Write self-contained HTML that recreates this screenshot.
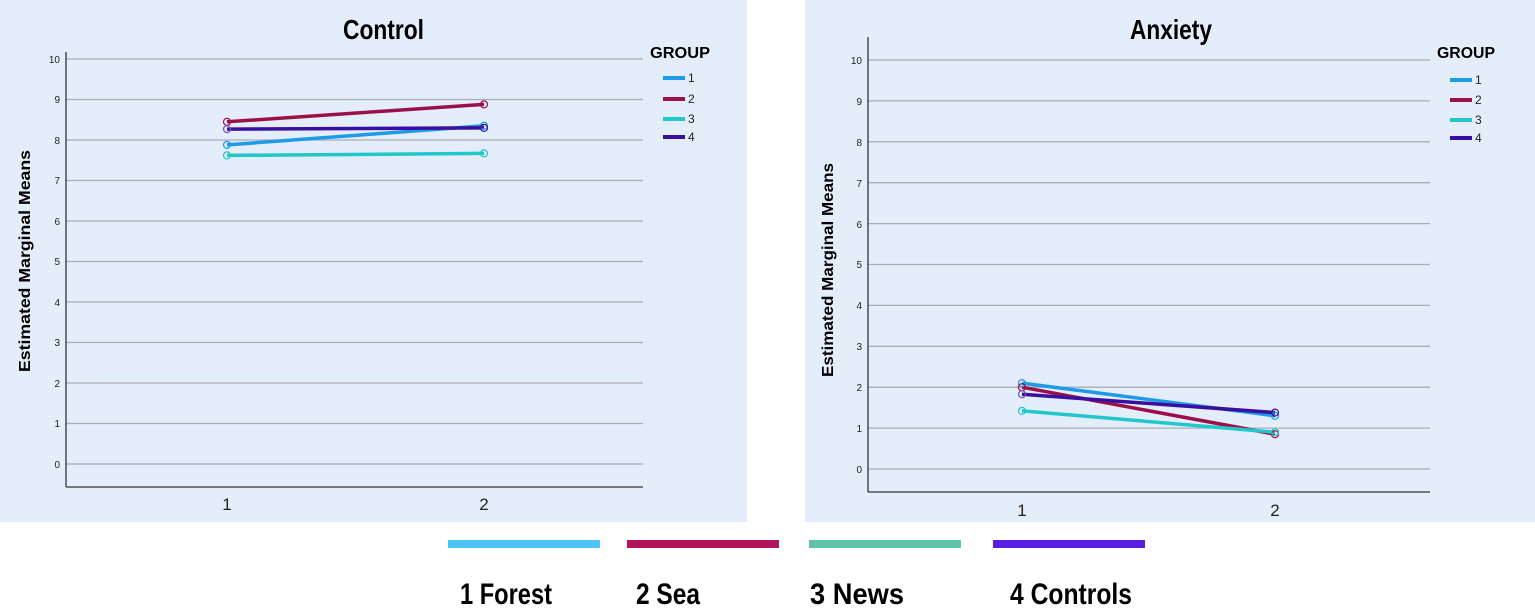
<!DOCTYPE html>
<html><head><meta charset="utf-8"><style>
html,body{margin:0;padding:0;background:#fff;width:1535px;height:611px;overflow:hidden}
svg{display:block}
.t{font-family:"Liberation Sans",sans-serif;font-weight:bold}
.tk{font-family:"Liberation Sans",sans-serif;font-size:10px;fill:#222}
.ax{font-family:"Liberation Sans",sans-serif;font-weight:bold;font-size:16px}
</style></head><body>
<svg width="1535" height="611" viewBox="0 0 1535 611" xmlns="http://www.w3.org/2000/svg">
<rect x="0" y="0" width="747" height="522" fill="#e4edfa"/>
<rect x="805" y="0" width="730" height="522" fill="#e4edfa"/>
<!-- left chart -->
<g stroke="#a9adb8" stroke-width="1.3">
<line x1="66" x2="643" y1="59" y2="59"/><line x1="66" x2="643" y1="99.5" y2="99.5"/><line x1="66" x2="643" y1="140" y2="140"/><line x1="66" x2="643" y1="180.5" y2="180.5"/><line x1="66" x2="643" y1="221" y2="221"/><line x1="66" x2="643" y1="261.5" y2="261.5"/><line x1="66" x2="643" y1="302" y2="302"/><line x1="66" x2="643" y1="342.5" y2="342.5"/><line x1="66" x2="643" y1="383" y2="383"/><line x1="66" x2="643" y1="423.5" y2="423.5"/><line x1="66" x2="643" y1="464" y2="464"/>
</g>
<line x1="66" y1="52" x2="66" y2="487" stroke="#333" stroke-width="1.3"/>
<line x1="66" y1="487" x2="643" y2="487" stroke="#333" stroke-width="1.3"/>
<g class="tk" text-anchor="end">
<text x="60" y="63">10</text><text x="60" y="103">9</text><text x="60" y="144">8</text><text x="60" y="184">7</text><text x="60" y="225">6</text><text x="60" y="265">5</text><text x="60" y="306">4</text><text x="60" y="346">3</text><text x="60" y="387">2</text><text x="60" y="427">1</text><text x="60" y="468">0</text>
</g>
<text class="tk" x="227" y="510" text-anchor="middle" style="font-size:17px">1</text>
<text class="tk" x="484" y="510" text-anchor="middle" style="font-size:17px">2</text>
<text class="ax" transform="translate(30,261) rotate(-90)" x="-111" textLength="222" lengthAdjust="spacingAndGlyphs">Estimated Marginal Means</text>
<text class="t" x="343" y="39" font-size="28" textLength="81" lengthAdjust="spacingAndGlyphs">Control</text>
<text class="t" x="650" y="58" font-size="16" textLength="60" lengthAdjust="spacingAndGlyphs">GROUP</text>
<g stroke-width="4">
<line x1="663" x2="685" y1="78" y2="78" stroke="#1e9be8"/><line x1="663" x2="685" y1="99" y2="99" stroke="#9b1048"/><line x1="663" x2="685" y1="119" y2="119" stroke="#22c7c9"/><line x1="663" x2="685" y1="137" y2="137" stroke="#3a0fa0"/>
</g>
<g class="tk" style="font-size:12px"><text x="688" y="82">1</text><text x="688" y="103">2</text><text x="688" y="123">3</text><text x="688" y="141">4</text></g>
<g stroke-width="3.5" fill="none">
<line x1="227" y1="144.9" x2="484" y2="125.8" stroke="#1e9be8"/>
<line x1="227" y1="121.8" x2="484" y2="104.4" stroke="#9b1048"/>
<line x1="227" y1="155.4" x2="484" y2="153.4" stroke="#22c7c9"/>
<line x1="227" y1="129.1" x2="484" y2="127.9" stroke="#3a0fa0"/>
</g>
<g fill="none" stroke-width="1.2">
<circle cx="227" cy="144.9" r="3.5" stroke="#1e9be8"/><circle cx="484" cy="125.8" r="3.5" stroke="#1e9be8"/>
<circle cx="227" cy="121.8" r="3.5" stroke="#9b1048"/><circle cx="484" cy="104.4" r="3.5" stroke="#9b1048"/>
<circle cx="227" cy="155.4" r="3.5" stroke="#22c7c9"/><circle cx="484" cy="153.4" r="3.5" stroke="#22c7c9"/>
<circle cx="227" cy="129.1" r="3.5" stroke="#7a4fc0"/><circle cx="484" cy="127.9" r="3.5" stroke="#3a0fa0"/>
</g>
<!-- right chart -->
<g stroke="#a9adb8" stroke-width="1.3">
<line x1="868" x2="1430" y1="60" y2="60"/><line x1="868" x2="1430" y1="100.9" y2="100.9"/><line x1="868" x2="1430" y1="141.8" y2="141.8"/><line x1="868" x2="1430" y1="182.7" y2="182.7"/><line x1="868" x2="1430" y1="223.6" y2="223.6"/><line x1="868" x2="1430" y1="264.5" y2="264.5"/><line x1="868" x2="1430" y1="305.4" y2="305.4"/><line x1="868" x2="1430" y1="346.3" y2="346.3"/><line x1="868" x2="1430" y1="387.2" y2="387.2"/><line x1="868" x2="1430" y1="428.1" y2="428.1"/><line x1="868" x2="1430" y1="469" y2="469"/>
</g>
<line x1="868" y1="37" x2="868" y2="492" stroke="#333" stroke-width="1.3"/>
<line x1="868" y1="492" x2="1430" y2="492" stroke="#333" stroke-width="1.3"/>
<g class="tk" text-anchor="end">
<text x="862" y="64">10</text><text x="862" y="105">9</text><text x="862" y="146">8</text><text x="862" y="187">7</text><text x="862" y="228">6</text><text x="862" y="268">5</text><text x="862" y="309">4</text><text x="862" y="350">3</text><text x="862" y="391">2</text><text x="862" y="432">1</text><text x="862" y="473">0</text>
</g>
<text class="tk" x="1022" y="516" text-anchor="middle" style="font-size:17px">1</text>
<text class="tk" x="1275" y="516" text-anchor="middle" style="font-size:17px">2</text>
<text class="ax" transform="translate(833,270) rotate(-90)" x="-107" textLength="214" lengthAdjust="spacingAndGlyphs">Estimated Marginal Means</text>
<text class="t" x="1130" y="39" font-size="28" textLength="82" lengthAdjust="spacingAndGlyphs">Anxiety</text>
<text class="t" x="1437" y="58" font-size="16" textLength="58" lengthAdjust="spacingAndGlyphs">GROUP</text>
<g stroke-width="4">
<line x1="1450" x2="1472" y1="80" y2="80" stroke="#1e9be8"/><line x1="1450" x2="1472" y1="100" y2="100" stroke="#9b1048"/><line x1="1450" x2="1472" y1="120" y2="120" stroke="#22c7c9"/><line x1="1450" x2="1472" y1="138" y2="138" stroke="#3a0fa0"/>
</g>
<g class="tk" style="font-size:12px"><text x="1475" y="84">1</text><text x="1475" y="104">2</text><text x="1475" y="124">3</text><text x="1475" y="142">4</text></g>
<g stroke-width="3.5" fill="none">
<line x1="1022" y1="383.1" x2="1275" y2="415.8" stroke="#1e9be8"/>
<line x1="1022" y1="387.2" x2="1275" y2="434.2" stroke="#9b1048"/>
<line x1="1022" y1="410.9" x2="1275" y2="432.2" stroke="#22c7c9"/>
<line x1="1022" y1="394.2" x2="1275" y2="412.6" stroke="#3a0fa0"/>
</g>
<g fill="none" stroke-width="1.2">
<circle cx="1022" cy="383.1" r="3.5" stroke="#1e9be8"/><circle cx="1275" cy="415.8" r="3.5" stroke="#1e9be8"/>
<circle cx="1022" cy="387.2" r="3.5" stroke="#9b1048"/><circle cx="1275" cy="434.2" r="3.5" stroke="#9b1048"/>
<circle cx="1022" cy="410.9" r="3.5" stroke="#22c7c9"/><circle cx="1275" cy="432.2" r="3.5" stroke="#22c7c9"/>
<circle cx="1022" cy="394.2" r="3.5" stroke="#7a4fc0"/><circle cx="1275" cy="412.6" r="3.5" stroke="#3a0fa0"/>
</g>
<!-- bottom legend -->
<rect x="448" y="540" width="152" height="8" fill="#4fc3f7"/>
<rect x="627" y="540" width="152" height="8" fill="#b0155a"/>
<rect x="809" y="540" width="152" height="8" fill="#5cc4a8"/>
<rect x="993" y="540" width="152" height="8" fill="#5a1ee0"/>
<g class="t" font-size="30" fill="#000">
<text x="460" y="604" textLength="92" lengthAdjust="spacingAndGlyphs">1 Forest</text>
<text x="636" y="604" textLength="64" lengthAdjust="spacingAndGlyphs">2 Sea</text>
<text x="810" y="604" textLength="94" lengthAdjust="spacingAndGlyphs">3 News</text>
<text x="1010" y="604" textLength="122" lengthAdjust="spacingAndGlyphs">4 Controls</text>
</g>
</svg>
</body></html>
